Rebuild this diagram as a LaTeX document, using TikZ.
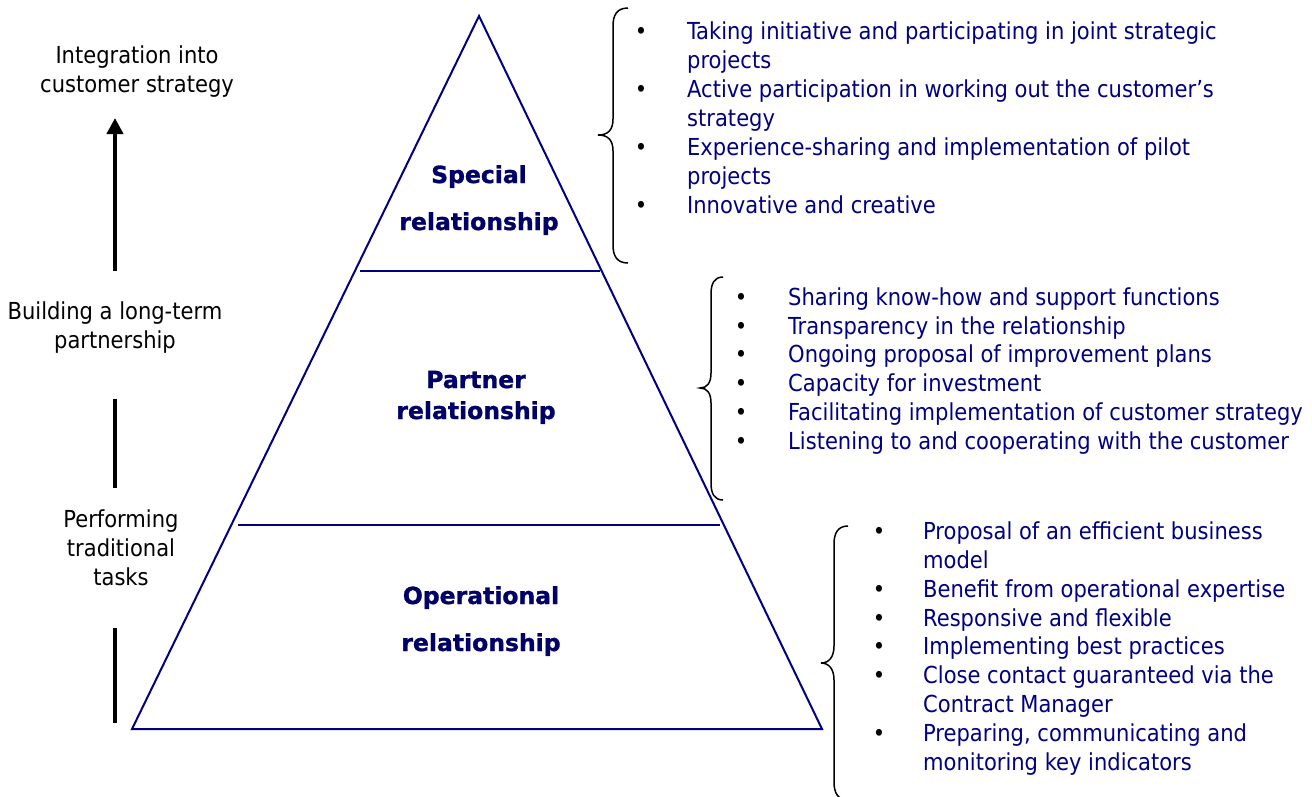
\documentclass[tikz,border=0pt]{standalone}
\usepackage{fontspec}
\setmainfont{DejaVu Sans Condensed}[BoldFont={DejaVu Sans Condensed Bold}]
\newfontfamily\tierfont{DejaVu Sans}[UprightFont={DejaVu Sans Bold},FakeBold=1.2]
\usetikzlibrary{arrows.meta}
\definecolor{navy}{RGB}{0,0,128}
\definecolor{labelnavy}{RGB}{0,0,102}

\begin{document}
\begin{tikzpicture}[x=1pt,y=-1pt,
  txt/.style={inner sep=0pt, font=\fontsize{23.4}{29}\selectfont},
  item/.style={txt, anchor=base west, text=navy},
  dot/.style={txt, anchor=base},
  side/.style={txt, anchor=base},
  level/.style={inner sep=0pt, anchor=base, text=labelnavy, font=\tierfont\fontsize{23.5}{29}\bfseries\selectfont},
  pyr/.style={draw=navy, line width=2pt, line join=miter},
  bracepath/.style={draw=black, line width=1.5pt},
  bar/.style={line width=4pt}]
\clip (0,0) rectangle (1312,796);

% pyramid and its tier dividers
\coordinate (apex) at (479,16);
\coordinate (bl) at (132,729);
\coordinate (br) at (822,729);
\draw[pyr] (apex) -- (br) -- (bl) -- cycle;
\coordinate (d1l) at (360,271); \coordinate (d1r) at (600,271);
\coordinate (d2l) at (238,525); \coordinate (d2r) at (720,525);
\draw[pyr] (d1l) -- (d1r);
\draw[pyr] (d2l) -- (d2r);

% tier labels
\node[level] (sp1) at (479,183) {Special};
\node[level] (sp2) at (479,230) {relationship};
\node[level] (pa1) at (476,388) {Partner};
\node[level] (pa2) at (476,419) {relationship};
\node[level] (op1) at (481,604) {Operational};
\node[level] (op2) at (481,651) {relationship};

% left-hand scale
\node[side] (l1a) at (137,63) {Integration into};
\node[side] (l1b) at (137,92) {customer strategy};
\node[side] (l2a) at (115,319) {Building a long-term};
\node[side] (l2b) at (115,348) {partnership};
\node[side] (l3a) at (121,527) {Performing};
\node[side] (l3b) at (121,556) {traditional};
\node[side] (l3c) at (121,585) {tasks};
\coordinate (a1s) at (115,271); \coordinate (a1e) at (115,118);
\coordinate (b2s) at (115,399); \coordinate (b2e) at (115,488);
\coordinate (b3s) at (115,628); \coordinate (b3e) at (115,723);
\draw[bar, -{Triangle[length=16pt,width=16pt]}] (a1s) -- (a1e);
\draw[bar] (b2s) -- (b2e);
\draw[bar] (b3s) -- (b3e);

% braces
\draw[bracepath] (628,8) .. controls (617,8) and (613,15) .. (613,26) -- (613,119)
  .. controls (613,130) and (608,135) .. (598,135)
  .. controls (608,135) and (613,140) .. (613,151) -- (613,245)
  .. controls (613,256) and (617,263) .. (628,263);
\draw[bracepath] (723,277) .. controls (714,277) and (711,284) .. (711,294) -- (711,373)
  .. controls (711,383) and (707,388) .. (700,388)
  .. controls (707,388) and (711,393) .. (711,403) -- (711,483)
  .. controls (711,493) and (714,500) .. (723,500);
\draw[bracepath] (848,526) .. controls (838,526) and (834,533) .. (834,544) -- (834,646)
  .. controls (834,657) and (829,663) .. (821,663)
  .. controls (829,663) and (834,669) .. (834,680) -- (834,782)
  .. controls (834,793) and (838,800) .. (848,800);

% special relationship items
\foreach \n/\y in {1/39,2/97,3/155,4/213}
  \node[dot] (s\n) at (641,\y) {•};
\node[item] (st1) at (687,39) {Taking initiative and participating in joint strategic};
\node[item] (st2) at (687,68) {projects};
\node[item] (st3) at (687,97) {Active participation in working out the customer’s};
\node[item] (st4) at (687,126) {strategy};
\node[item] (st5) at (687,155) {Experience-sharing and implementation of pilot};
\node[item] (st6) at (687,184) {projects};
\node[item] (st7) at (687,213) {Innovative and creative};

% partner relationship items
\foreach \n/\y in {1/305,2/334,3/362,4/391,5/420,6/449}
  \node[dot] (p\n) at (741,\y) {•};
\node[item] (pt1) at (788,305) {Sharing know-how and support functions};
\node[item] (pt2) at (788,334) {Transparency in the relationship};
\node[item] (pt3) at (788,362) {Ongoing proposal of improvement plans};
\node[item] (pt4) at (788,391) {Capacity for investment};
\node[item] (pt5) at (788,420) {Facilitating implementation of customer strategy};
\node[item] (pt6) at (788,449) {Listening to and cooperating with the customer};

% operational relationship items
\foreach \n/\y in {1/539,2/597,3/626,4/654,5/683,6/741}
  \node[dot] (o\n) at (879,\y) {•};
\node[item] (ot1) at (923,539) {Proposal of an efficient business};
\node[item] (ot2) at (923,568) {model};
\node[item] (ot3) at (923,597) {Benefit from operational expertise};
\node[item] (ot4) at (923,626) {Responsive and flexible};
\node[item] (ot5) at (923,654) {Implementing best practices};
\node[item] (ot6) at (923,683) {Close contact guaranteed via the};
\node[item] (ot7) at (923,712) {Contract Manager};
\node[item] (ot8) at (923,741) {Preparing, communicating and};
\node[item] (ot9) at (923,770) {monitoring key indicators};
\end{tikzpicture}
\end{document}
